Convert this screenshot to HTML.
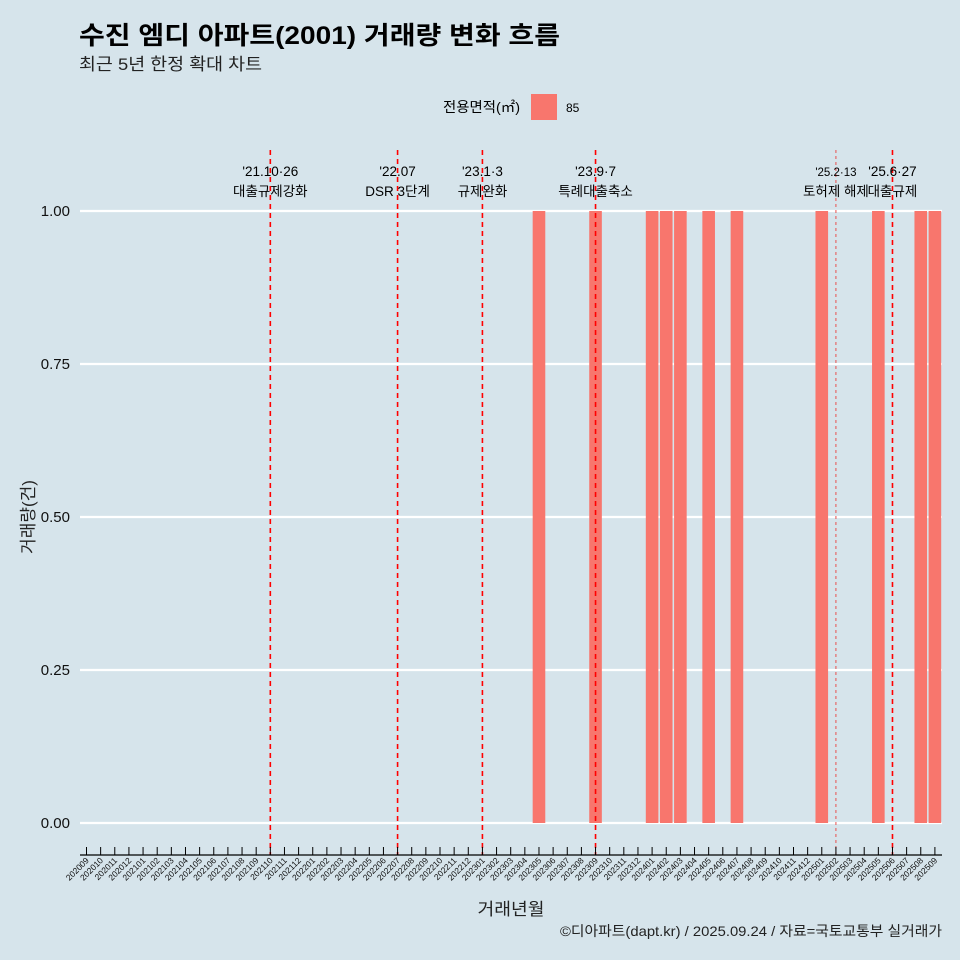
<!DOCTYPE html>
<html><head><meta charset="utf-8"><style>
body{margin:0;background:#d6e4eb;}
svg{display:block;font-family:"Liberation Sans","Noto Sans CJK KR",sans-serif;}
</style></head><body>
<svg id="c" width="960" height="960">
<rect width="960" height="960" fill="#d6e4eb"/>
<text x="79" y="44" font-size="25" font-weight="bold" fill="#000" textLength="481" lengthAdjust="spacingAndGlyphs">수진 엠디 아파트(2001) 거래량 변화 흐름</text>
<text x="79" y="70" font-size="17" fill="#222" textLength="183" lengthAdjust="spacingAndGlyphs">최근 5년 한정 확대 차트</text>
<g>
<text x="443" y="112" font-size="14" fill="#000" textLength="77" lengthAdjust="spacingAndGlyphs">전용면적(㎡)</text>
<rect x="531" y="94" width="26" height="26" fill="#f8766d"/>
<text x="566" y="112" font-size="12" fill="#000">85</text>
</g>
<g id="grid"></g><g id="bars"></g><g id="events"></g><g id="axes"></g>
<text transform="translate(34,517) rotate(-90)" text-anchor="middle" font-size="17" fill="#222">거래량(건)</text>
<text x="511" y="915" text-anchor="middle" font-size="17" fill="#222" textLength="67" lengthAdjust="spacingAndGlyphs">거래년월</text>
<text x="942" y="936" text-anchor="end" font-size="14" fill="#222" textLength="382" lengthAdjust="spacingAndGlyphs">©디아파트(dapt.kr) / 2025.09.24 / 자료=국토교통부 실거래가</text>
</svg>
<script>
const months=[];for(let y=2020,m=9;!(y===2025&&m===10);){months.push(y+String(m).padStart(2,'0'));m++;if(m>12){m=1;y++;}}
const saleMonths=['202305','202309','202401','202402','202403','202405','202407','202501','202505','202508','202509'];
const saleCounts=[1,1,1,1,1,1,1,1,1,1,1];
const yTicks=[0,0.25,0.5,0.75,1.0];
const yTickLabels=['0.00','0.25','0.50','0.75','1.00'];
const eventMonths=['202110','202207','202301','202309','202502','202506'];
const eventDates=["'21.10·26","'22.07","'23.1·3","'23.9·7","'25.2·13","'25.6·27"];
const eventNames=['대출규제강화','DSR 3단계','규제완화','특례대출축소','토허제 해제','대출규제'];
const NS='http://www.w3.org/2000/svg';
function mk(p,t,a){const e=document.createElementNS(NS,t);for(const k in a)e.setAttribute(k,a[k]);document.getElementById(p).appendChild(e);return e;}
const X=m=>86.5+months.indexOf(m)*14.14;
const Y=v=>823-v*612;
yTicks.forEach((v,i)=>{
 const l=mk('grid','line',{x1:80,x2:942,y1:Y(v),y2:Y(v),stroke:'#fff','stroke-width':2.2});
 
 const t=mk('axes','text',{x:70,y:Y(v)+5,'text-anchor':'end','font-size':15,fill:'#111'});t.textContent=yTickLabels[i];
 
});
saleMonths.forEach((m,i)=>{
 const r=mk('bars','rect',{x:X(m)-6.3,y:Y(saleCounts[i]),width:12.6,height:Y(0)-Y(saleCounts[i]),fill:'#f8766d'});
 
});
eventMonths.forEach((m,i)=>{
 const x=X(m),thin=m==='202502';
 const l=mk('events','line',{x1:x,x2:x,y1:150,y2:855,stroke:thin?'#e8504f':'#ff0000','stroke-width':thin?1:1.6,'stroke-dasharray':thin?'3,3':'5,4'});
 
 const d=mk('events','text',{x:x,y:176,'text-anchor':'middle','font-size':thin?11.5:13.5,fill:'#000'});d.textContent=eventDates[i];
 
 const n=mk('events','text',{x:x,y:196,'text-anchor':'middle','font-size':13.5,fill:'#000'});n.textContent=eventNames[i];
 
});
const ax=mk('axes','line',{x1:80,x2:942,y1:855,y2:855,stroke:'#000','stroke-width':1.2});

months.forEach(m=>{
 const x=X(m);
 const t=mk('axes','line',{x1:x,x2:x,y1:847,y2:855,stroke:'#000','stroke-width':1});
 
 const s=mk('axes','text',{transform:`translate(${x+3},${861}) rotate(-45)`,'text-anchor':'end','font-size':8.5,fill:'#111'});s.textContent=m;
 
});
</script>
</body></html>
